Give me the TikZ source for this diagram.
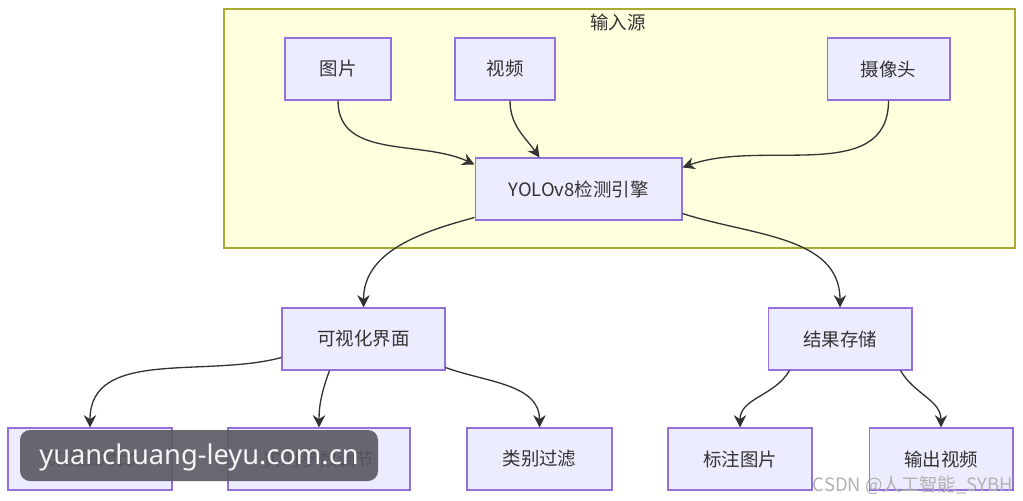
\documentclass[tikz,border=0pt]{standalone}
\usepackage{fontspec}
\setmainfont{Noto Sans CJK SC}
\newfontfamily\wmfont{Noto Sans}
\usetikzlibrary{positioning,arrows.meta,calc}

\definecolor{boxfill}{HTML}{ECECFF}
\definecolor{boxline}{HTML}{9370DB}
\definecolor{groupfill}{HTML}{FFFFDE}
\definecolor{groupline}{HTML}{AAAA33}
\definecolor{edgecol}{HTML}{333333}
\definecolor{markgray}{HTML}{585862}

\tikzset{
  box/.style={draw=boxline, fill=boxfill, line width=0.6pt, text=edgecol,
    font=\fontsize{10.5}{12}\selectfont, minimum height=1.24cm, inner sep=0pt},
  flow/.style={draw=edgecol, line width=0.75pt, -{Stealth[length=7pt,width=7pt]}}
}

\begin{document}
\begin{tikzpicture}[x=0.02cm, y=-0.02cm]
  \useasboundingbox (0,0) rectangle (1023,500);
  \fill[white] (0,0) rectangle (1023,500);

  % Input group
  \filldraw[fill=groupfill, draw=groupline, line width=0.6pt] (224,9) rectangle (1015,248);
  \node[text=edgecol, font=\fontsize{10.5}{12}\selectfont] (grp) at (618,22) {输入源};

  % Sources
  \node[box, minimum width=2.12cm] (img) at (338,69) {图片};
  \node[box, minimum width=2.0cm] (vid) at (505,69) {视频};
  \node[box, minimum width=2.46cm] (cam) at (888.5,69) {摄像头};

  % Engine
  \node[box, minimum width=4.14cm] (eng) at (578.5,189) {YOLOv8检测引擎};

  % Second level
  \node[box, minimum width=3.26cm] (vis) at (363.5,339) {可视化界面};
  \node[box, minimum width=2.88cm] (sto) at (840,339) {结果存储};

  % Leaves
  \node[box, minimum width=3.28cm] (dual) at (90,459) {双视图对比};
  \node[box, minimum width=3.64cm] (param) at (319,459) {实时参数调节};
  \node[box, minimum width=2.9cm] (filt) at (539.5,459) {类别过滤};
  \node[box, minimum width=2.88cm] (mark) at (740,459) {标注图片};
  \node[box, minimum width=2.88cm] (outv) at (941,459) {输出视频};

  % Connectors
  \draw[flow] (img.south) to[out=-90, in=155] ($(eng.north west)+(0,7)$);
  \draw[flow] ($(vid.south)+(5,0)$) to[out=-90, in=125] ($(eng.north west)+(65,0)$);
  \draw[flow] (cam.south) to[out=-90, in=20] ($(eng.north east)+(0,10)$);
  \draw[flow] ($(eng.south west)+(0,-3)$) to[out=195, in=90] (vis.north);
  \draw[flow] ($(eng.south east)+(0,-7)$) to[out=-18, in=90] (sto.north);
  \draw[flow] ($(vis.south west)+(0,-13)$) to[out=195, in=90] (dual.north);
  \draw[flow] ($(vis.south west)+(48,0)$) to[out=-110, in=90] (param.north);
  \draw[flow] ($(vis.south east)+(0,-3)$) to[out=-20, in=90] (filt.north);
  \draw[flow] ($(sto.south west)+(22,0)$) to[out=-120, in=90] (mark.north);
  \draw[flow] ($(sto.south east)+(-12,0)$) to[out=-60, in=90] (outv.north);

  % Watermarks
  \fill[markgray, opacity=0.9, rounded corners=0.2cm] (20,430) rectangle (378,481);
  \node[text=white!92!gray, font=\wmfont\fontsize{15.5}{18}\selectfont] (wm) at (199,457) {yuanchuang-leyu.com.cn};
  \node[text=gray!60, font=\fontsize{10.5}{12}\selectfont, anchor=east] (csdn) at (1019,485) {CSDN @人工智能\_SYBH};
\end{tikzpicture}
\end{document}
